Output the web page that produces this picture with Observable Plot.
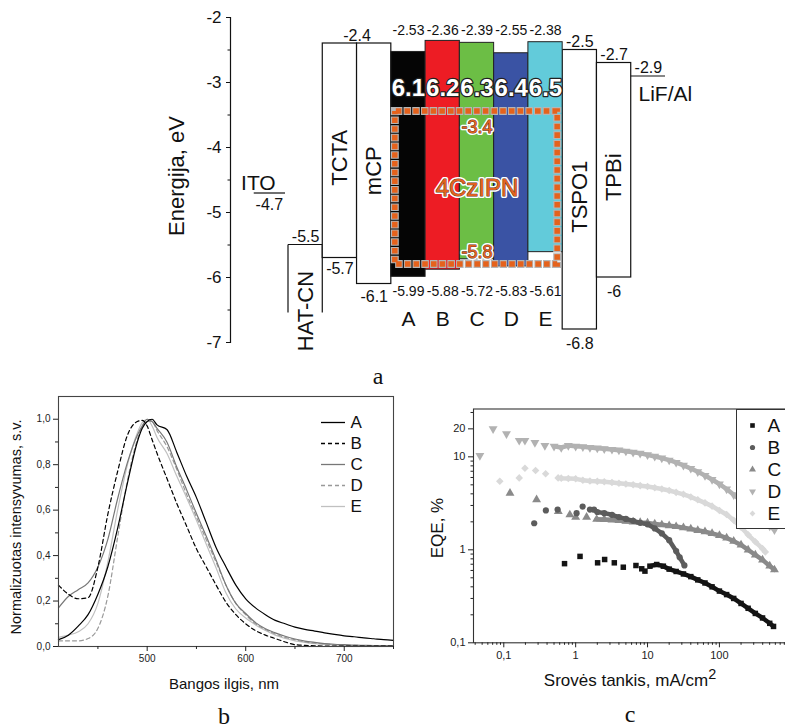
<!DOCTYPE html>
<html><head><meta charset="utf-8">
<script src="https://cdn.jsdelivr.net/npm/d3@7"></script>
<script src="https://cdn.jsdelivr.net/npm/@observablehq/plot@0.6"></script>
<style>
body{margin:0;background:#fff;}
#root{position:relative;width:785px;height:728px;overflow:hidden;background:#fff;font-family:"Liberation Sans",Arial,sans-serif;}
.lbl{position:absolute;white-space:nowrap;color:#111;line-height:1;}
.serif{font-family:"Liberation Serif","Times New Roman",serif;}
.lbl sup{font-size:0.85em;vertical-align:0.45em;line-height:0;}
</style></head><body><div id="root"></div>
<script>
// ---------- Panel a: energy levels ----------
const stackOrder = ["ITO","HAT-CN","TCTA","mCP","A","B","C","D","E","TSPO1","TPBi","LiF/Al"];
const itoLevel = -4.7;
const hatcnLevel = -5.5;
const lifLevel = -2.9;
const transNames = ["TCTA","mCP","TSPO1","TPBi"];
const transLumo = [-2.4,-2.4,-2.5,-2.7];
const transHomo = [-5.7,-6.1,-6.8,-6.0];
const hostNames = ["A","B","C","D","E"];
const hostLumo = [-2.53,-2.36,-2.39,-2.55,-2.38];
const hostHomo = [-5.99,-5.88,-5.72,-5.83,-5.61];
const hostInner = ["6.1","6.2","6.3","6.4","6.5"];
const hostColors = ["#050505","#ED1C24","#6CBE45","#3A53A4","#62CBDA"];
const emitterName = "4CzIPN";
const emitterLevels = [-3.4,-5.8];
const energyTicks = [-7,-6,-5,-4,-3,-2];
const energyMinor = [-6.5,-5.5,-4.5,-3.5,-2.5];

// ---------- Panel b: EL spectra ----------
const wavelengths = [410,420,430,440,450,460,470,480,490,495,500,505,510,520,530,540,550,560,570,580,590,600,610,620,630,640,650,660,670,680,690,700,710,720,730,740,750];
const specA = [.03,.05,.09,.14,.23,.35,.52,.72,.9,.96,.99,1.0,.975,.955,.855,.75,.655,.545,.435,.35,.27,.21,.17,.14,.115,.1,.085,.075,.068,.06,.053,.047,.043,.038,.034,.03,.027];
const specB = [.27,.23,.21,.215,.35,.58,.77,.93,.99,.995,.97,.91,.85,.74,.63,.53,.43,.35,.27,.195,.14,.1,.07,.05,.035,.02,.008,.005,.003,.002,.002,.002,.002,.002,.002,.002,.002];
const specC = [.17,.22,.25,.28,.35,.47,.65,.81,.93,.97,1.0,.99,.96,.9,.79,.69,.585,.485,.38,.27,.19,.145,.105,.078,.06,.045,.033,.024,.018,.013,.01,.008,.006,.005,.004,.004,.003];
const specD = [.025,.025,.025,.035,.08,.22,.48,.73,.91,.97,.99,.99,.95,.88,.78,.67,.57,.47,.37,.27,.19,.14,.1,.075,.055,.04,.03,.02,.015,.011,.008,.006,.005,.004,.003,.003,.002];
const specE = [.04,.05,.065,.1,.19,.37,.6,.8,.94,.985,1.0,.97,.92,.85,.75,.655,.555,.45,.345,.235,.165,.125,.095,.07,.05,.035,.025,.018,.012,.009,.007,.005,.004,.003,.003,.003,.003];
const specSeries = ["A","B","C","D","E"];
const specTicks = [500,600,700];
const specMinor = [450,550,650,750];
const specYTicks = [0,0.2,0.4,0.6,0.8,1.0];
const specYMinor = [0.1,0.3,0.5,0.7,0.9];

// ---------- Panel c: EQE vs current density ----------
const eqeSeries = ["A","B","C","D","E"];
const jSparseA = [0.70,1.15,2.02,2.53,3.45,4.6,6.9,8.3,9.2];
const eqeSparseA = [0.71,0.85,0.725,0.787,0.725,0.65,0.678,0.625,0.59];
const jDenseA = [10.8,13.4,16.6,20,25,31.6,40,50,63,79,100,126,158,200,251,316,398,501,566];
const eqeDenseA = [0.667,0.695,0.667,0.62,0.585,0.55,0.515,0.475,0.44,0.4,0.36,0.33,0.3,0.265,0.235,0.207,0.185,0.162,0.15];
const jSparseB = [0.265,0.385,0.561,1.03,1.25,1.58];
const eqeSparseB = [1.93,2.65,2.71,2.48,2.92,2.71];
const jDenseB = [1.8,2.0,2.5,3.2,4,5,6.3,7.9,10,12.6,15.8,20,25,28,32.6];
const eqeDenseB = [2.7,2.55,2.48,2.38,2.25,2.15,2.05,1.95,1.88,1.7,1.5,1.27,0.97,0.83,0.68];
const jSparseC = [0.122,0.286,0.573,0.83,1.0,1.42];
const eqeSparseC = [4.06,3.47,2.58,2.38,2.25,2.24];
const jDenseC = [1.96,2.5,3.2,4,5,6.3,7.9,10,12.6,15.8,20,25,31.6,40,50,63,79,100,126,158,200,251,316,398,501,583];
const eqeDenseC = [2.13,2.12,2.1,2.07,2.03,2.0,1.97,1.95,1.9,1.86,1.82,1.78,1.73,1.68,1.62,1.57,1.5,1.43,1.34,1.24,1.13,1.0,0.88,0.78,0.67,0.61];
const jSparseD = [0.0465,0.071,0.109,0.164,0.197,0.271,0.373];
const eqeSparseD = [10.3,20.0,17.7,15.0,15.0,14.2,13.2];
const jDenseD = [0.5,0.63,0.79,1,1.26,1.58,2,2.5,3.2,4,5,6.3,7.9,10,12.6,15.8,20,25,31.6,40,50,63,79,100,126,158,200,251,316,398,501,583];
const eqeDenseD = [13.0,12.6,13.2,13.0,12.8,12.6,12.4,12.2,12.0,11.8,11.5,11.2,10.9,10.5,10.1,9.7,9.2,8.7,8.1,7.5,6.9,6.3,5.7,5.1,4.5,3.9,3.4,2.9,2.5,2.1,1.8,1.64];
const jSparseE = [0.088,0.164,0.197,0.277,0.382];
const eqeSparseE = [5.47,5.94,7.54,7.13,6.57];
const jDenseE = [0.57,0.63,0.79,1,1.26,1.58,2,2.5,3.2,4,5,6.3,7.9,10,12.6,15.8,20,25,31.6,40,50,63,79,100,126,158,200,251,316,398,435];
const eqeDenseE = [5.94,5.9,5.85,5.8,5.6,5.5,5.45,5.4,5.3,5.2,5.1,5.0,4.9,4.8,4.65,4.5,4.35,4.15,3.95,3.7,3.45,3.2,2.95,2.65,2.4,2.08,1.75,1.45,1.22,1.03,0.95];
const jTicks = [0.1,1,10,100];
const jMinor = [0.04,0.05,0.06,0.07,0.08,0.09,0.2,0.3,0.4,0.5,0.6,0.7,0.8,0.9,2,3,4,5,6,7,8,9,20,30,40,50,60,70,80,90,200,300,400,500,600,700,800,900];
const eqeTicks = [0.1,1,10,20];
const eqeMinor = [0.2,0.3,0.4,0.5,0.6,0.7,0.8,0.9,2,3,4,5,6,7,8,9,30];

// ---------- helpers ----------
const root = document.getElementById("root");
const FONT = "Liberation Sans, Arial, sans-serif";
function put(el, left, top){ el.style.position="absolute"; el.style.left=left+"px"; el.style.top=top+"px"; el.style.background="transparent"; el.style.overflow="visible"; el.style.maxWidth="none"; root.appendChild(el); return el; }
function label(html, cx, cy, size, opts={}){
  const d=document.createElement("div"); d.className="lbl"+(opts.serif?" serif":"");
  d.innerHTML=html; d.style.fontSize=size+"px"; d.style.left=cx+"px"; d.style.top=cy+"px";
  d.style.transform="translate(-50%,-50%)"+(opts.rotate?" rotate(-90deg)":"");
  if(opts.color) d.style.color=opts.color;
  root.appendChild(d);
}
const slot = name => stackOrder.indexOf(name) - 1;
const comma = d => String(d).replace(".", ",");

// ---------- Panel a ----------
const hostData = hostNames.map((n,i)=>({n, lumo:hostLumo[i], homo:hostHomo[i], inner:hostInner[i], color:hostColors[i]}));
const transData = transNames.map((n,i)=>({n, lumo:transLumo[i], homo:transHomo[i]}));
const slotW = 377/11;
const outlined = (data, opts, size) => [["#fff",4],["#5a3a2a",1]].map(([s,w],k)=>Plot.text(data, {...opts, fontSize:size, fill:k?"#E5621C":"none", stroke:s, strokeWidth:w, paintOrder:"stroke"}));
const panelA = Plot.plot({
  width:785, height:390, marginLeft:230, marginTop:17, marginBottom:48, marginRight:100,
  x:{domain:[0,11], range:[288,665], axis:null},
  y:{domain:[-7,-2], axis:null},
  style:{fontFamily:FONT, background:"transparent", color:"#111"},
  marks:[
    Plot.frame({anchor:"left", stroke:"#111", strokeWidth:1.2}),
    Plot.axisY(energyTicks, {anchor:"left", tickSize:4, tickPadding:5, tickFormat:d=>String(d), fontSize:17, stroke:"#111", label:null}),
    Plot.axisY(energyMinor, {anchor:"left", tickSize:2.5, tickFormat:()=>"", stroke:"#111", label:null}),
    Plot.ruleY([itoLevel], {x1:slot("ITO"), x2:slot("ITO")+1, insetRight:3, stroke:"#111", strokeWidth:1.2}),
    Plot.rect([hatcnLevel], {x1:slot("HAT-CN"), x2:slot("HAT-CN")+1, y1:d=>d, y2:d=>d, insetBottom:-68, fill:"none", stroke:"#111", strokeWidth:1.2, strokeDasharray:`${slotW+68} ${slotW} 68`}),
    Plot.rect(transData, {x1:d=>slot(d.n), x2:d=>slot(d.n)+1, y1:"lumo", y2:"homo", fill:"#fff", stroke:"#111", strokeWidth:1.2}),
    Plot.rect(hostData, {x1:d=>slot(d.n), x2:d=>slot(d.n)+1, y1:"lumo", y2:"homo", fill:"color", stroke:"#222", strokeWidth:1}),
    Plot.ruleY([lifLevel], {x1:slot("LiF/Al"), x2:slot("LiF/Al")+1, stroke:"#111", strokeWidth:1.2}),
    Plot.rect([emitterLevels], {x1:slot("A"), x2:slot("E")+1, y1:d=>d[0], y2:d=>d[1], insetLeft:4, insetRight:5, insetTop:3, fill:"none", stroke:"#b5b5b5", strokeWidth:8, strokeDasharray:"7.6 1.1"}),
    Plot.rect([emitterLevels], {x1:slot("A"), x2:slot("E")+1, y1:d=>d[0], y2:d=>d[1], insetLeft:4, insetRight:5, insetTop:3, fill:"none", stroke:"#E5621C", strokeWidth:5.5, strokeDasharray:"5.6 3.1", strokeDashoffset:-1}),
    Plot.text(hostData, {x:d=>slot(d.n)+0.5, frameAnchor:"top", dy:61, text:"inner", fill:"#fff", stroke:"#222", strokeWidth:2.5, paintOrder:"stroke", fontWeight:"bold", fontSize:24}),
    Plot.text(hostData, {x:d=>slot(d.n)+0.5, frameAnchor:"top", dy:8, text:d=>String(d.lumo), fontSize:14, fill:"#111"}),
    Plot.text(hostData, {x:d=>slot(d.n)+0.5, frameAnchor:"bottom", dy:-47, text:d=>String(d.homo), fontSize:14, fill:"#111"}),
    Plot.text(hostData, {x:d=>slot(d.n)+0.5, frameAnchor:"bottom", dy:-17, text:"n", fontSize:21, fill:"#111"}),
    ...outlined([emitterName], {x:slot("C")+0.5, y:(emitterLevels[0]+emitterLevels[1])/2, dy:2, text:d=>d}, 24),
    ...outlined([emitterLevels[0]], {x:slot("C")+0.5, y:d=>d, dy:19, text:d=>String(d)}, 18),
    ...outlined([emitterLevels[1]], {x:slot("C")+0.5, y:d=>d, dy:-12, text:d=>String(d)}, 18),
    Plot.text(transData, {x:d=>slot(d.n)+0.5, y:d=>(d.lumo+d.homo)/2, dy:7, rotate:-90, text:"n", fontSize:22, fill:"#111"}),
    Plot.text([hatcnLevel], {x:slot("HAT-CN")+0.5, y:d=>d, dy:66, rotate:-90, text:()=>"HAT-CN", fontSize:22, fill:"#111"}),
    Plot.text([itoLevel], {x:slot("ITO")+0.5, y:d=>d, dx:-13, dy:-10, text:()=>"ITO", fontSize:21, fill:"#111"}),
    Plot.text([itoLevel], {x:slot("ITO")+0.5, y:d=>d, dx:-2, dy:12, text:d=>String(d), fontSize:16, fill:"#111"}),
    Plot.text([hatcnLevel], {x:slot("HAT-CN")+0.5, y:d=>d, dy:-8, text:d=>String(d), fontSize:16, fill:"#111"}),
    Plot.text([transData[0]], {x:d=>slot(d.n)+1, y:"lumo", dy:-8, text:d=>String(d.lumo), fontSize:16, fill:"#111"}),
    Plot.text([transData[0]], {x:d=>slot(d.n)+0.5, y:"homo", dy:11, text:d=>String(d.homo), fontSize:16, fill:"#111"}),
    Plot.text([transData[1]], {x:d=>slot(d.n)+0.5, y:"homo", dy:13, text:d=>String(d.homo), fontSize:16, fill:"#111"}),
    Plot.text(transData.slice(2), {x:d=>slot(d.n)+0.5, y:"lumo", dy:-8, text:d=>String(d.lumo), fontSize:16, fill:"#111"}),
    Plot.text(transData.slice(2), {x:d=>slot(d.n)+0.5, y:"homo", dy:14, text:d=>String(d.homo), fontSize:16, fill:"#111"}),
    Plot.text([lifLevel], {x:slot("LiF/Al")+0.5, y:d=>d, dy:-8, text:d=>String(d), fontSize:16, fill:"#111"}),
    Plot.text([lifLevel], {x:slot("LiF/Al")+0.5, y:d=>d, dx:17, dy:18, text:()=>"LiF/Al", fontSize:21, fill:"#111"})
  ]
});
put(panelA, 0, 0);
label("Energija, eV", 177, 176, 22, {rotate:true});
label("a", 378, 376, 24, {serif:true});

// ---------- Panel b ----------
const specValues = [specA, specB, specC, specD, specE];
const specStroke = ["#000","#000","#777","#999","#c0c0c0"];
const specDash = [null,"4 3",null,"4 3",null];
const drawOrder = [4,3,2,1,0];
const panelB = Plot.plot({
  width:400, height:320, marginLeft:58, marginRight:7, marginTop:16, marginBottom:54,
  x:{domain:[410,750], axis:null},
  y:{domain:[0,1.1], axis:null},
  style:{fontFamily:FONT, background:"transparent", color:"#222"},
  marks:[
    ...drawOrder.map(i=>Plot.line(wavelengths, {x:d=>d, y:(d,j)=>specValues[i][j], stroke:specStroke[i], strokeWidth:1.2, strokeDasharray:specDash[i], curve:"monotone-x"})),
    Plot.frame({stroke:"#444", strokeWidth:1.1}),
    Plot.axisX(specTicks, {anchor:"bottom", tickSize:5, tickPadding:3, fontSize:10, tickFormat:d=>String(d), label:null}),
    Plot.axisX(specMinor, {anchor:"bottom", tickSize:3, tickFormat:()=>"", label:null}),
    Plot.axisY(specYTicks, {anchor:"left", tickSize:5, tickPadding:3, fontSize:10, tickFormat:d=>d3.format(".1f")(d).replace(".",","), label:null}),
    Plot.axisY(specYMinor, {anchor:"left", tickSize:3, tickFormat:()=>"", label:null})
  ]
});
put(panelB, 0, 380);
const legendB = Plot.plot({
  width:70, height:120, margin:0,
  x:{domain:[0,1], range:[6,30], axis:null},
  y:{type:"point", domain:specSeries, range:[11,98], padding:0, axis:null},
  style:{fontFamily:FONT, background:"transparent"},
  marks:[
    ...specSeries.map((s,i)=>Plot.ruleY([s], {y:d=>d, x1:0, x2:1, stroke:specStroke[i], strokeWidth:1.3, strokeDasharray:specDash[i]})),
    Plot.text(specSeries, {y:d=>d, x:1, dx:5, text:d=>d, textAnchor:"start", fontSize:17, fill:"#111"})
  ]
});
put(legendB, 315, 409);
label("Normalizuotas intensyvumas, s.v.", 16, 527, 14.5, {rotate:true});
label("Bangos ilgis, nm", 224, 683, 15);
label("b", 224, 716, 24, {serif:true});

// ---------- Panel c ----------
const triDown = {draw(ctx, size){ const s3=Math.sqrt(3); const y=-Math.sqrt(size/(s3*3)); ctx.moveTo(0,-y*2); ctx.lineTo(-s3*y,y); ctx.lineTo(s3*y,y); ctx.closePath(); }};
const eqeSymbols = ["square","circle","triangle",triDown,"diamond2"];
const eqeColors = ["#141414","#5c5c5c","#8a8a8a","#b2b2b2","#d9d9d9"];
const sparseJ = [jSparseA,jSparseB,jSparseC,jSparseD,jSparseE];
const sparseE = [eqeSparseA,eqeSparseB,eqeSparseC,eqeSparseD,eqeSparseE];
const denseJ = [jDenseA,jDenseB,jDenseC,jDenseD,jDenseE];
const denseE = [eqeDenseA,eqeDenseB,eqeDenseC,eqeDenseD,eqeDenseE];
const cOrder = [3,4,2,1,0];
const symR = [3.1,3.1,3.3,3.3,3.4];
const panelC = Plot.plot({
  width:400, height:350, marginLeft:73, marginRight:10, marginTop:28.5, marginBottom:87.7,
  x:{type:"log", domain:[0.0379,975], axis:null},
  y:{type:"log", domain:[0.1,32.7], axis:null},
  style:{fontFamily:FONT, background:"transparent", color:"#222"},
  marks:[
    ...cOrder.flatMap(i=>[
      Plot.line(denseJ[i], {x:d=>d, y:(d,j)=>denseE[i][j], stroke:eqeColors[i], strokeWidth:4.5}),
      Plot.dot(denseJ[i], {x:d=>d, y:(d,j)=>denseE[i][j], symbol:eqeSymbols[i], r:symR[i], fill:eqeColors[i], stroke:"none"}),
      Plot.dot(sparseJ[i], {x:d=>d, y:(d,j)=>sparseE[i][j], symbol:eqeSymbols[i], r:symR[i], fill:eqeColors[i], stroke:"none"})
    ]),
    Plot.frame({stroke:"#333", strokeWidth:1.1}),
    Plot.axisX(jTicks, {anchor:"bottom", tickSize:5, tickPadding:3, fontSize:11, tickFormat:comma, label:null}),
    Plot.axisX(jMinor, {anchor:"bottom", tickSize:2.5, tickFormat:()=>"", label:null}),
    Plot.axisY(eqeTicks, {anchor:"left", tickSize:5, tickPadding:3, fontSize:11, tickFormat:comma, label:null}),
    Plot.axisY(eqeMinor, {anchor:"left", tickSize:2.5, tickFormat:()=>"", label:null})
  ]
});
put(panelC, 400, 380);
const legendC = Plot.plot({
  width:60, height:118, margin:0,
  x:{domain:[0,1], range:[15,30], axis:null},
  y:{type:"point", domain:eqeSeries, range:[15,103], padding:0, axis:null},
  style:{fontFamily:FONT, background:"#fff"},
  marks:[
    ...eqeSeries.map((s,i)=>Plot.dot([s], {x:0, y:d=>d, symbol:eqeSymbols[i], r:2.6, fill:eqeColors[i], stroke:"none"})),
    Plot.text(eqeSeries, {x:1, y:d=>d, text:d=>d, textAnchor:"start", fontSize:19, fill:"#111"})
  ]
});
const lc = put(legendC, 736, 409);
lc.style.background="#fff"; lc.style.border="1px solid #333"; lc.style.boxSizing="content-box";
label("EQE, %", 437, 528, 17, {rotate:true});
label("Srovės tankis, mA/cm<sup>2</sup>", 630, 680, 17);
label("c", 630, 714, 24, {serif:true});
</script></body></html>
